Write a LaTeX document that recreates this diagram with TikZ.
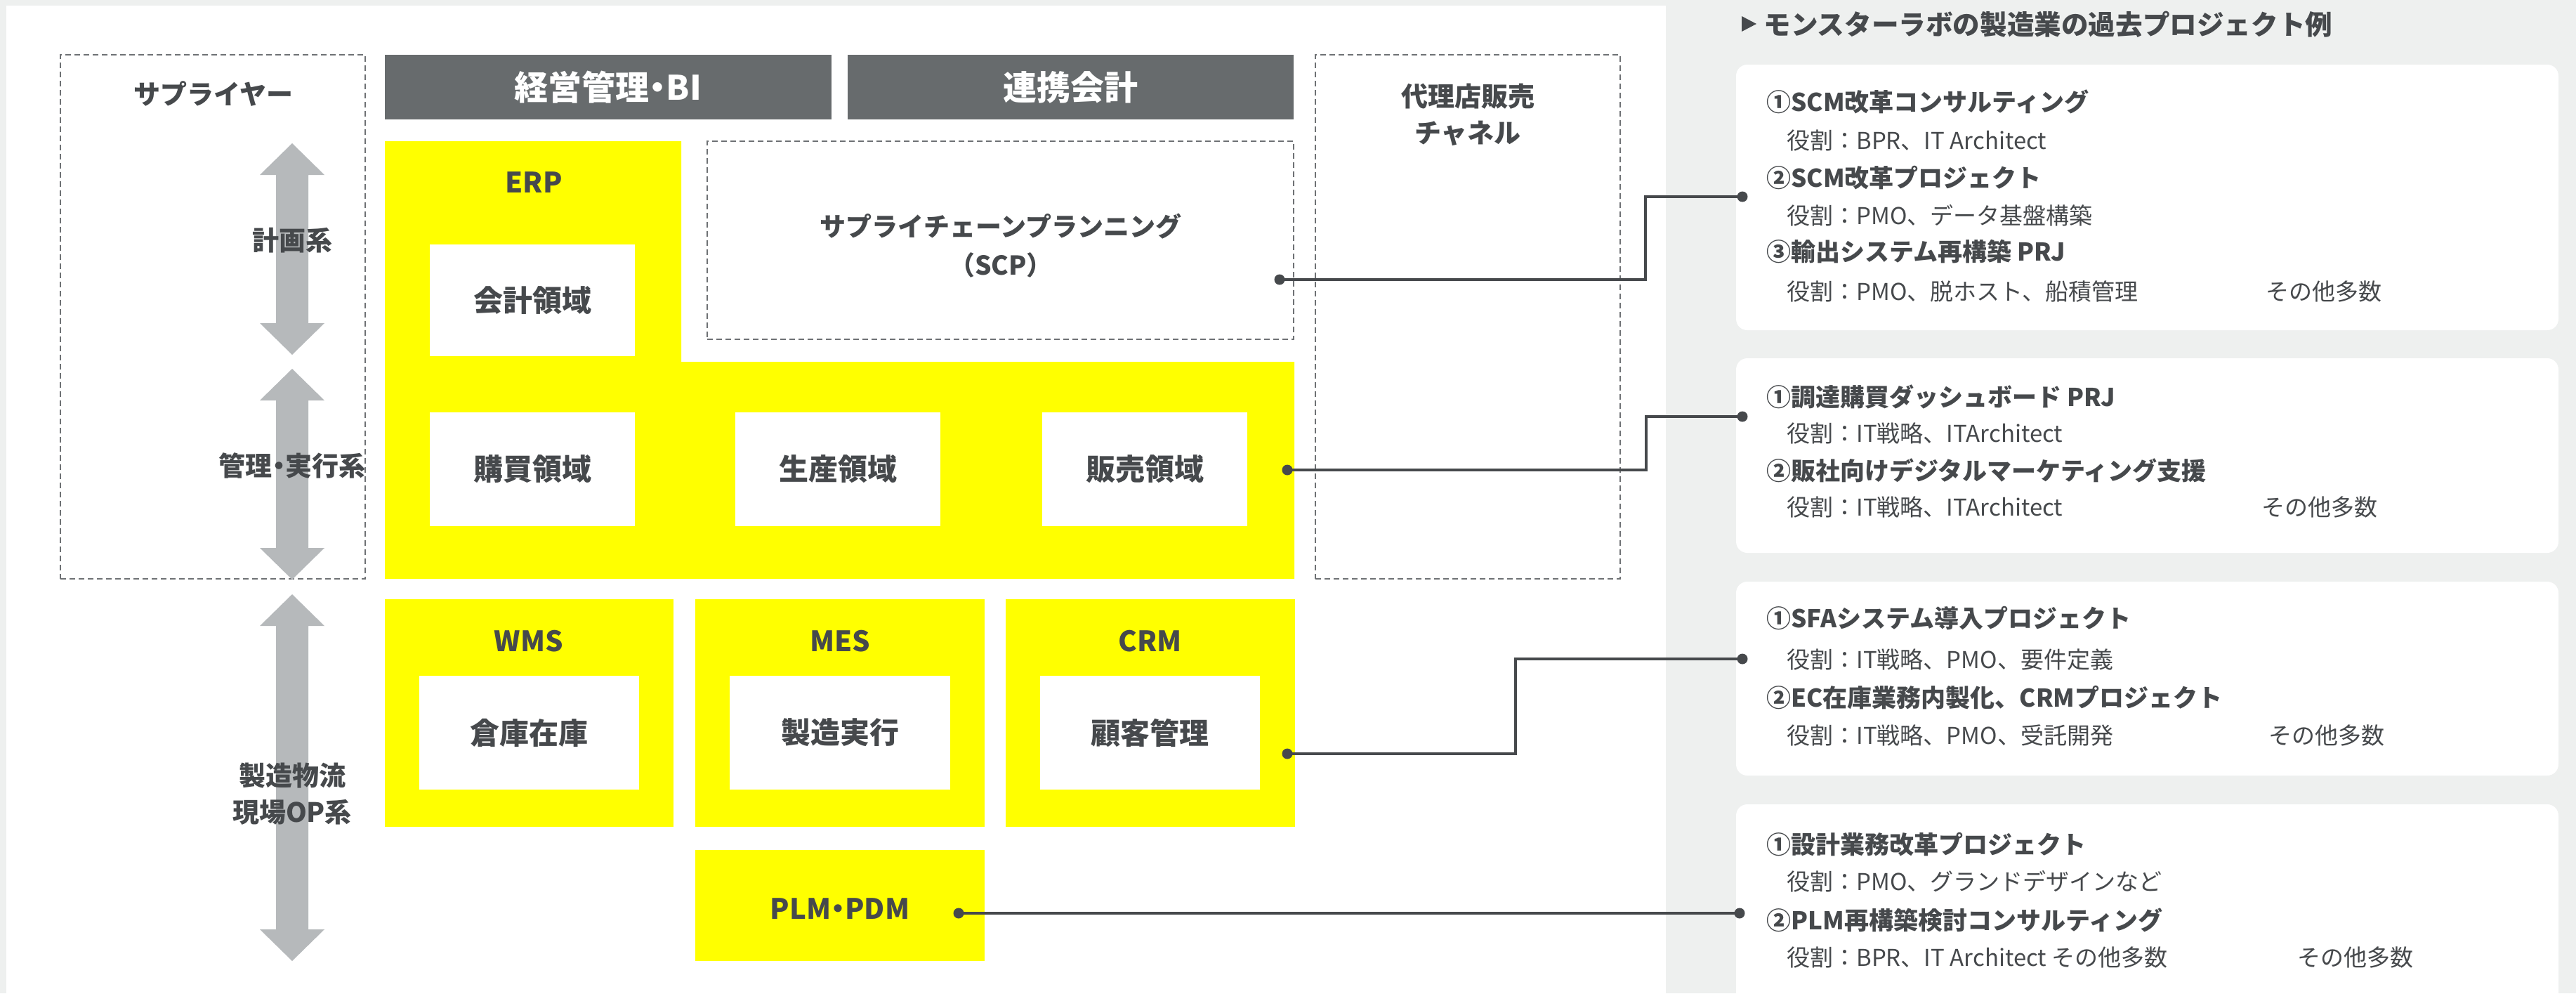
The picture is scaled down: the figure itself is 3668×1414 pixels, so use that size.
\documentclass[tikz,border=0pt]{standalone}
\usepackage{fontspec}
\setmainfont{Noto Sans CJK JP}
\newfontfamily\paltfont{Noto Sans CJK JP}[RawFeature=+palt]
\usetikzlibrary{fit}
\definecolor{bgc}{HTML}{EEF0EF}
\definecolor{hdr}{HTML}{676B6D}
\definecolor{ylw}{HTML}{FFFF00}
\definecolor{arrc}{HTML}{B6B9BB}
\definecolor{txt}{HTML}{46494C}
\definecolor{dsh}{HTML}{6E7174}
\newcommand\vdarrow[3]{%
  \fill[arrc] (#1,#2) -- ++(46,45) -- ++(-23,0) -- (#1+23,#3-45) -- ++(23,0) -- (#1,#3)
    -- ++(-46,-45) -- ++(23,0) -- (#1-23,#2+45) -- ++(-23,0) -- cycle;}
\begin{document}
\begin{tikzpicture}[x=0.5pt,y=-0.5pt,
  dbox/.style={draw=dsh, line width=1pt, dash pattern=on 4pt off 2.5pt, inner sep=0pt},
  hbox/.style={fill=hdr, inner sep=0pt},
  htxt/.style={inner sep=0pt, text=white, font=\bfseries\fontsize{24}{28}\selectfont},
  ybox/.style={fill=ylw, inner sep=0pt},
  wbox/.style={fill=white, inner sep=0pt},
  wtxt/.style={inner sep=0pt, text=txt, font=\bfseries\fontsize{21}{25}\selectfont},
  lbl/.style={text=txt, font=\bfseries\fontsize{19}{26}\selectfont, inner sep=0pt, align=center},
  ylbl/.style={text=txt, font=\bfseries\fontsize{20}{24}\selectfont, inner sep=0pt},
  card/.style={fill=white, rounded corners=8pt, inner sep=0pt},
  conn/.style={draw=txt, line width=2pt},
  dot/.style={circle, fill=txt, minimum size=7.5pt, inner sep=0pt},
  hd/.style={anchor=west, text=txt, font=\bfseries\fontsize{17.5}{20}\selectfont, inner sep=0pt},
  rl/.style={anchor=west, text=txt, font=\fontsize{16.5}{20}\selectfont, inner sep=0pt}]
\useasboundingbox (0,0) rectangle (3668,1414);
\fill[bgc] (0,0) rectangle (3668,1414);
\fill[white] (9,8) rectangle (2372,1414);

% left column
\node[dbox, fit={(86,78)(520,824)}] (sup) {};
\node[lbl] (suptxt) at (304,133) {サプライヤー};
\vdarrow{416}{204}{505}
\vdarrow{416}{525}{825}
\vdarrow{416}{846}{1368}
\node[lbl] (plan) at (416,342) {計画系};
\node[lbl, font=\paltfont\bfseries\fontsize{19}{26}\selectfont] (exec) at (416,663) {管理・実行系};
\node[lbl] (ops1) at (416,1104) {製造物流};
\node[lbl] (ops2) at (416,1156) {現場OP系};

% headers
\node[hbox, fit={(548,78)(1184,170)}] (bi) {};
\node[htxt, font=\paltfont\bfseries\fontsize{24}{28}\selectfont] (bit) at (bi) {経営管理・BI};
\node[hbox, fit={(1207,78)(1842,170)}] (renkei) {};
\node[htxt] (renkeit) at (renkei) {連携会計};

% dealer
\node[dbox, fit={(1873,78)(2307,824)}] (dealer) {};
\node[lbl] (dealer1) at (2090,137) {代理店販売};
\node[lbl] (dealer2) at (2090,190) {チャネル};

% ERP
\fill[ylw] (548,201) -- (970,201) -- (970,515) -- (1843,515) -- (1843,824) -- (548,824) -- cycle;
\node[ylbl] (erp) at (760,260) {ERP};
\node[wbox, fit={(612,348)(904,507)}] (kaikei) {};
\node[wtxt] (kaikeit) at (kaikei) {会計領域};
\node[wbox, fit={(612,587)(904,749)}] (kobai) {};
\node[wtxt] (kobait) at (kobai) {購買領域};
\node[wbox, fit={(1047,587)(1339,749)}] (seisan) {};
\node[wtxt] (seisant) at (seisan) {生産領域};
\node[wbox, fit={(1484,587)(1776,749)}] (hanbai) {};
\node[wtxt] (hanbait) at (hanbai) {販売領域};
\node[dbox, fit={(1007,201)(1842,483)}] (scp) {};
\node[lbl, font=\bfseries\fontsize{18.5}{22}\selectfont] (scp1) at (1425,322) {サプライチェーンプランニング};
\node[lbl, font=\bfseries\fontsize{18.5}{22}\selectfont] (scp2) at (1425,377) {（SCP）};

% lower systems
\node[ybox, fit={(548,853)(959,1177)}] (wms) {};
\node[ybox, fit={(990,853)(1402,1177)}] (mes) {};
\node[ybox, fit={(1432,853)(1844,1177)}] (crm) {};
\node[ylbl] (wmst) at (753,913) {WMS};
\node[ylbl] (mest) at (1196,913) {MES};
\node[ylbl] (crmt) at (1638,913) {CRM};
\node[wbox, fit={(597,962)(910,1124)}] (soko) {};
\node[wtxt] (sokot) at (soko) {倉庫在庫};
\node[wbox, fit={(1039,962)(1353,1124)}] (seizo) {};
\node[wtxt] (seizot) at (seizo) {製造実行};
\node[wbox, fit={(1481,962)(1794,1124)}] (kokyaku) {};
\node[wtxt] (kokyakut) at (kokyaku) {顧客管理};
\node[ybox, fit={(990,1210)(1402,1368)}] (plm) {};
\node[ylbl, font=\paltfont\bfseries\fontsize{20}{24}\selectfont] (plmt) at (1196,1294) {PLM・PDM};

% right panel
\fill[txt] (2480,23) -- (2501,34) -- (2480,45) -- cycle;
\node[anchor=west, text=txt, font=\bfseries\fontsize{19.3}{23}\selectfont, inner sep=0pt] (title) at (2511,35) {モンスターラボの製造業の過去プロジェクト例};

\node[card, fit={(2472,92)(3643,470)}] (card1) {};
\node[card, fit={(2472,510)(3643,787)}] (card2) {};
\node[card, fit={(2472,828)(3643,1104)}] (card3) {};
\node[card, fit={(2472,1145)(3643,1440)}] (card4) {};

\node[hd] (a1) at (2515,145) {①SCM改革コンサルティング};
\node[rl] (a2) at (2544,200) {役割：BPR、IT Architect};
\node[hd] (a3) at (2515,253) {②SCM改革プロジェクト};
\node[rl] (a4) at (2544,307) {役割：PMO、データ基盤構築};
\node[hd] (a5) at (2515,358) {③輸出システム再構築 PRJ};
\node[rl] (a6) at (2544,415) {役割：PMO、脱ホスト、船積管理};
\node[rl] (a7) at (3226,415) {その他多数};

\node[hd] (b1) at (2515,565) {①調達購買ダッシュボード PRJ};
\node[rl] (b2) at (2544,617) {役割：IT戦略、ITArchitect};
\node[hd] (b3) at (2515,670) {②販社向けデジタルマーケティング支援};
\node[rl] (b4) at (2544,722) {役割：IT戦略、ITArchitect};
\node[rl] (b5) at (3220,722) {その他多数};

\node[hd] (c1t) at (2515,880) {①SFAシステム導入プロジェクト};
\node[rl] (c2t) at (2544,939) {役割：IT戦略、PMO、要件定義};
\node[hd] (c3t) at (2515,993) {②EC在庫業務内製化、CRMプロジェクト};
\node[rl] (c4t) at (2544,1047) {役割：IT戦略、PMO、受託開発};
\node[rl] (c5t) at (3230,1047) {その他多数};

\node[hd] (e1) at (2515,1202) {①設計業務改革プロジェクト};
\node[rl] (e2) at (2544,1255) {役割：PMO、グランドデザインなど};
\node[hd] (e3) at (2515,1310) {②PLM再構築検討コンサルティング};
\node[rl] (e4) at (2544,1363) {役割：BPR、IT Architect その他多数};
\node[rl] (e5) at (3271,1363) {その他多数};

% connectors
\node[dot] (d1) at (1822,398) {};
\node[dot] (d2) at (1833,669) {};
\node[dot] (d3) at (1833,1073) {};
\node[dot] (d4) at (1365,1300) {};
\node[dot] (p1) at (2481,280) {};
\node[dot] (p2) at (2481,593) {};
\node[dot] (p3) at (2481,938) {};
\node[dot] (p4) at (2477,1300) {};
\draw[conn] (d1.center) -- ++(521,0) |- (p1.center);
\draw[conn] (d2.center) -- ++(511,0) |- (p2.center);
\draw[conn] (d3.center) -- ++(325,0) |- (p3.center);
\draw[conn] (d4.center) -- (p4.center);
\end{tikzpicture}
\end{document}
